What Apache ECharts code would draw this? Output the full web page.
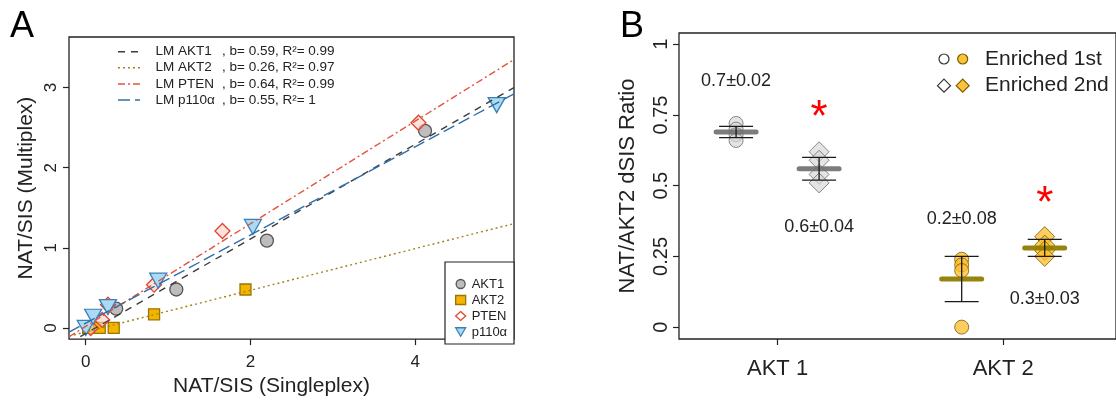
<!DOCTYPE html>
<html>
<head>
<meta charset="utf-8">
<script src="https://cdn.jsdelivr.net/npm/echarts@6/dist/echarts.min.js"></script>
<style>
  html, body { margin: 0; padding: 0; background: #fff; }
  #chart { width: 1116px; height: 402px; }
</style>
</head>
<body>
<div id="chart"></div>
<script>
// ---------- Panel A: multiplex vs singleplex NAT/SIS ----------
const groupsA = ['AKT1', 'AKT2', 'PTEN', 'p110α'];
const akt1Pts = [[0.37, 0.24], [1.10, 0.48], [2.20, 1.09], [4.12, 2.46]];
const akt2Pts = [[0.03, 0.00], [0.17, 0.00], [0.34, 0.00], [0.83, 0.17], [1.94, 0.48]];
const ptenPts = [[0.06, 0.00], [0.20, 0.10], [0.27, 0.29], [0.83, 0.54], [1.66, 1.21], [4.04, 2.56]];
const p110Pts = [[0.00, 0.00], [0.09, 0.14], [0.27, 0.26], [0.88, 0.59], [2.03, 1.26], [4.99, 2.78]];
const slopes = [0.59, 0.26, 0.64, 0.55];
const intercepts = [-0.07, -0.05, 0.02, 0.06];
const rSquared = ['0.99', '0.97', '0.99', '1'];
const xTicksA = [0, 2, 4];
const yTicksA = [0, 1, 2, 3];

// ---------- Panel B: NAT/AKT2 dSIS ratio ----------
const genes = ['AKT 1', 'AKT 2'];
const enriched1st = [[0.72, 0.70, 0.68, 0.66], [0.24, 0.22, 0.20, 0.00]];
const enriched2nd = [[0.62, 0.59, 0.54, 0.51], [0.32, 0.29, 0.27, 0.25]];
const mean1st = [0.69, 0.17];
const mean2nd = [0.56, 0.28];
const sd1st = [0.02, 0.08];
const sd2nd = [0.04, 0.03];
const significant2nd = [true, true];
const yTicksB = [0, 0.25, 0.5, 0.75, 1];
const seriesNamesB = ['Enriched 1st', 'Enriched 2nd'];

// ---------- layout / style ----------
const FONT = '"Liberation Sans", Arial, Helvetica, sans-serif';
const INK = '#222';
const xRangeA = [-0.203, 5.2];
const yRangeA = [-0.139, 3.63];
const xRangeB = [0.563, 2.5];
const yRangeB = [-0.042, 1.04];
const dodge = 0.184;                       // horizontal offset of the two enrichment groups
const statLabelY = [[0.87, 0.355], [0.381, 0.099]]; // [gene][enrichment]
const starY = [0.767, 0.465];

const lineStyles = [
  { color: '#3d3d3d', dash: [7, 6] },
  { color: '#a3831c', dash: [2, 3] },
  { color: '#e2543e', dash: [7, 3, 2, 3] },
  { color: '#2f6fa8', dash: [12, 5] }
];
const downTri = 'path://M0,0L20,0L10,17Z';
const markerA = [
  { symbol: 'circle', size: 13, fill: '#bdbdbd', stroke: '#555', legendFill: '#bdbdbd' },
  { symbol: 'rect', size: 11, fill: '#f4b400', stroke: '#9a7500', legendFill: '#f4b400' },
  { symbol: 'diamond', size: 15, fill: 'rgba(250,205,200,0.6)', stroke: '#e0452f', legendFill: '#ffffff' },
  { symbol: downTri, size: [17, 15], fill: '#a9dcf4', stroke: '#3d7fb5', legendFill: '#a9dcf4' }
];
const geneStyle = [
  { fill: 'rgba(215,215,215,0.85)', stroke: '#6d6d6d', meanColor: 'rgba(110,110,110,0.9)' },
  { fill: 'rgba(253,191,45,0.95)', stroke: '#7a5c00', meanColor: 'rgba(145,125,0,0.95)' }
];

const ptsA = [akt1Pts, akt2Pts, ptenPts, p110Pts];

const series = [];

// scatter points, panel A
groupsA.forEach((name, i) => {
  const m = markerA[i];
  series.push({
    name: name,
    type: 'scatter',
    xAxisIndex: 0, yAxisIndex: 0,
    symbol: m.symbol,
    symbolSize: m.size,
    itemStyle: { color: m.fill, borderColor: m.stroke, borderWidth: 1.3, opacity: 1 },
    data: ptsA[i],
    z: 3
  });
});

// fitted lines, panel A
groupsA.forEach((name, i) => {
  const f = x => intercepts[i] + slopes[i] * x;
  series.push({
    name: 'LM ' + name,
    type: 'line',
    xAxisIndex: 0, yAxisIndex: 0,
    symbol: 'none',
    silent: true,
    lineStyle: { color: lineStyles[i].color, width: 1.4, type: lineStyles[i].dash },
    data: [[xRangeA[0], f(xRangeA[0])], [xRangeA[1], f(xRangeA[1])]],
    z: 4
  });
});

// individual points, panel B
const symB = ['circle', 'diamond'];
const sizeB = [14, 20];
genes.forEach((g, gi) => {
  [enriched1st, enriched2nd].forEach((set, ei) => {
    const xPos = gi + 1 + (ei === 0 ? -dodge : dodge);
    series.push({
      name: seriesNamesB[ei] + ' ' + g,
      type: 'scatter',
      xAxisIndex: 1, yAxisIndex: 1,
      symbol: symB[ei],
      symbolSize: sizeB[ei],
      itemStyle: { color: geneStyle[gi].fill, borderColor: geneStyle[gi].stroke, borderWidth: 1 },
      data: set[gi].map(v => [xPos, v]),
      z: 3
    });
  });
});

// mean bars, error bars, stat labels and significance stars, panel B
const statData = [];
genes.forEach((g, gi) => {
  [[mean1st, sd1st], [mean2nd, sd2nd]].forEach(([mArr, sArr], ei) => {
    const xPos = gi + 1 + (ei === 0 ? -dodge : dodge);
    statData.push([xPos, mArr[gi], sArr[gi], gi, ei]);
  });
});

series.push({
  type: 'custom',
  xAxisIndex: 1, yAxisIndex: 1,
  silent: true,
  z: 5,
  data: statData,
  renderItem: function (params, api) {
    const x = api.value(0), m = api.value(1), s = api.value(2);
    const gi = api.value(3), ei = api.value(4);
    const c = api.coord([x, m]);
    const lo = api.coord([x, m - s]);
    const hi = api.coord([x, m + s]);
    const halfBar = 20, halfCap = 17;
    const children = [
      { type: 'line', shape: { x1: c[0] - halfBar, y1: c[1], x2: c[0] + halfBar, y2: c[1] },
        style: { stroke: geneStyle[gi].meanColor, lineWidth: 5, lineCap: 'round' } },
      { type: 'line', shape: { x1: c[0], y1: lo[1], x2: c[0], y2: hi[1] },
        style: { stroke: '#1a1a1a', lineWidth: 1.3 } },
      { type: 'line', shape: { x1: c[0] - halfCap, y1: lo[1], x2: c[0] + halfCap, y2: lo[1] },
        style: { stroke: '#1a1a1a', lineWidth: 1.3 } },
      { type: 'line', shape: { x1: c[0] - halfCap, y1: hi[1], x2: c[0] + halfCap, y2: hi[1] },
        style: { stroke: '#1a1a1a', lineWidth: 1.3 } }
    ];
    const lp = api.coord([x, statLabelY[gi][ei]]);
    children.push({
      type: 'text', x: lp[0], y: lp[1],
      style: { text: m.toFixed(1) + '±' + s.toFixed(2), fill: INK, font: '18px ' + FONT,
               align: 'center', verticalAlign: 'middle' }
    });
    if (ei === 1 && significant2nd[gi]) {
      const sp = api.coord([x, starY[gi]]);
      children.push({
        type: 'text', x: sp[0], y: sp[1] + 9,
        style: { text: '*', fill: '#ff0000', font: '44px ' + FONT,
                 align: 'center', verticalAlign: 'middle' }
      });
    }
    return { type: 'group', children: children };
  }
});

// header legend of panel A (fitted lines)
const legendRowsA = [51.7, 67.7, 84, 100];
const graphics = [];
groupsA.forEach((name, i) => {
  const y = legendRowsA[i];
  graphics.push({
    type: 'line', shape: { x1: 118, y1: y, x2: 140, y2: y },
    style: { stroke: lineStyles[i].color, lineWidth: 1.4, lineDash: lineStyles[i].dash }
  });
  graphics.push({
    type: 'text', x: 155.5, y: y,
    style: { text: 'LM ' + name, fill: INK, font: '13.5px ' + FONT, verticalAlign: 'middle' }
  });
  graphics.push({
    type: 'text', x: 222, y: y,
    style: { text: ', b= ' + slopes[i].toFixed(2) + ', R²= ' + rSquared[i], fill: INK,
             font: '13.5px ' + FONT, verticalAlign: 'middle' }
  });
});
// frame of the symbol key in panel A
graphics.push({
  type: 'rect', shape: { x: 445, y: 262, width: 69, height: 82 },
  style: { fill: '#fff', stroke: INK, lineWidth: 1.2 }, z: 10
});

// key of panel B
const keyB = [
  { y: 59, shape: 'circle' },
  { y: 85.7, shape: 'diamond' }
];
keyB.forEach((k, ki) => {
  [[944, '#ffffff', '#333'], [962.7, geneStyle[1].fill, geneStyle[1].stroke]].forEach(([cx, fill, stroke]) => {
    if (k.shape === 'circle') {
      graphics.push({ type: 'circle', shape: { cx: cx, cy: k.y, r: 5 },
        style: { fill: fill, stroke: stroke, lineWidth: 1.2 } });
    } else {
      graphics.push({ type: 'polygon',
        shape: { points: [[cx, k.y - 6.5], [cx + 6.5, k.y], [cx, k.y + 6.5], [cx - 6.5, k.y]] },
        style: { fill: fill, stroke: stroke, lineWidth: 1.2 } });
    }
  });
  graphics.push({ type: 'text', x: 985, y: k.y,
    style: { text: seriesNamesB[ki], fill: INK, font: '21px ' + FONT, verticalAlign: 'middle' } });
});

// panel letters
graphics.push({ type: 'text', x: 10, y: 27, style: { text: 'A', fill: '#000', font: '36px ' + FONT, verticalAlign: 'middle' } });
graphics.push({ type: 'text', x: 620, y: 27, style: { text: 'B', fill: '#000', font: '36px ' + FONT, verticalAlign: 'middle' } });

const chart = echarts.init(document.getElementById('chart'), null, { renderer: 'canvas' });

const axisCommon = {
  axisLine: { show: false, onZero: false },
  splitLine: { show: false },
  axisTick: { show: true, inside: false, length: 6, lineStyle: { color: INK, width: 1.2 } }
};

chart.setOption({
  animation: false,
  backgroundColor: '#fff',
  textStyle: { fontFamily: FONT },
  grid: [
    { left: 69, top: 37, width: 445, height: 307, show: true, borderColor: INK, borderWidth: 1.3, backgroundColor: 'transparent' },
    { left: 679, top: 33, width: 460, height: 306, show: true, borderColor: INK, borderWidth: 1.3, backgroundColor: 'transparent' }
  ],
  legend: {
    left: 450, top: 271,
    orient: 'vertical',
    itemWidth: 10, itemHeight: 9,
    itemGap: 0,
    textStyle: { fontSize: 13, color: INK, fontFamily: FONT, lineHeight: 16, padding: [0, 0, 0, 1] },
    z: 11,
    data: groupsA.map((n, i) => ({
      name: n,
      itemStyle: { color: markerA[i].legendFill, borderColor: markerA[i].stroke, borderWidth: 1.3 }
    }))
  },
  xAxis: [
    Object.assign({}, axisCommon, {
      gridIndex: 0, type: 'value', min: xRangeA[0], max: xRangeA[1],
      axisTick: Object.assign({}, axisCommon.axisTick, { customValues: xTicksA }),
      axisLabel: { customValues: xTicksA, fontSize: 17, color: INK, margin: 15, fontFamily: FONT },
      name: 'NAT/SIS (Singleplex)', nameLocation: 'middle', nameGap: 36,
      nameTextStyle: { fontSize: 21, color: INK, fontFamily: FONT, padding: [0, 40, 0, 0] }
    }),
    Object.assign({}, axisCommon, {
      gridIndex: 1, type: 'value', min: xRangeB[0], max: xRangeB[1],
      axisTick: Object.assign({}, axisCommon.axisTick, { customValues: [1, 2] }),
      axisLabel: { customValues: [1, 2], fontSize: 22, color: INK, margin: 19, fontFamily: FONT,
                   formatter: v => genes[Math.round(v) - 1] }
    })
  ],
  yAxis: [
    Object.assign({}, axisCommon, {
      gridIndex: 0, type: 'value', min: yRangeA[0], max: yRangeA[1],
      axisTick: Object.assign({}, axisCommon.axisTick, { customValues: yTicksA }),
      axisLabel: { customValues: yTicksA, fontSize: 17, color: INK, margin: 9, rotate: 90, fontFamily: FONT },
      name: 'NAT/SIS (Multiplex)', nameLocation: 'middle', nameGap: 32, nameRotate: 90,
      nameTextStyle: { fontSize: 21, color: INK, fontFamily: FONT }
    }),
    Object.assign({}, axisCommon, {
      gridIndex: 1, type: 'value', min: yRangeB[0], max: yRangeB[1],
      axisTick: Object.assign({}, axisCommon.axisTick, { customValues: yTicksB }),
      axisLabel: { customValues: yTicksB, fontSize: 20, color: INK, margin: 8, rotate: 90, fontFamily: FONT,
                   formatter: v => String(+v.toFixed(2)) },
      name: 'NAT/AKT2 dSIS Ratio', nameLocation: 'middle', nameGap: 40, nameRotate: 90,
      nameTextStyle: { fontSize: 22, color: INK, fontFamily: FONT }
    })
  ],
  graphic: graphics,
  series: series
});
</script>
</body>
</html>
